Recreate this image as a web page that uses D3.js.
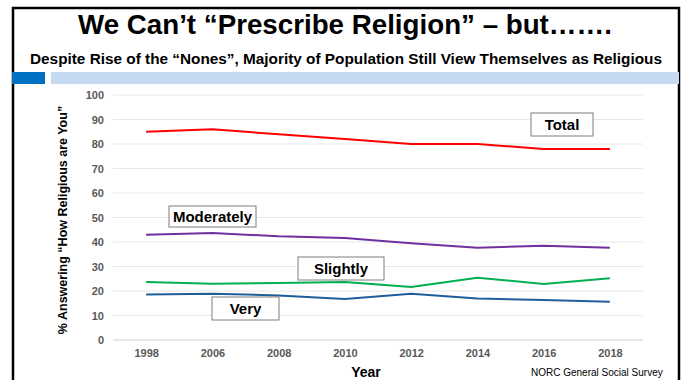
<!DOCTYPE html>
<html>
<head>
<meta charset="utf-8">
<script src="https://cdn.jsdelivr.net/npm/d3@7"></script>
<style>
  html, body { margin: 0; padding: 0; background: #fff; }
  svg { display: block; font-family: "Liberation Sans", Arial, Helvetica, sans-serif; }
</style>
</head>
<body>
<svg id="chart" width="684" height="380"></svg>
<script>
// Survey years (category axis)
const years = ["1998", "2006", "2008", "2010", "2012", "2014", "2016", "2018"];

// Percent answering each level of "How religious are you"
const total      = [85, 86, 84, 82, 80, 80, 78, 78];
const moderately = [43, 43.7, 42.3, 41.6, 39.5, 37.7, 38.5, 37.7];
const slightly   = [23.7, 23, 23.3, 23.7, 21.6, 25.4, 22.9, 25.2];
const very       = [18.6, 18.9, 18.2, 16.7, 18.9, 16.9, 16.3, 15.6];

const seriesNames = ["Total", "Moderately", "Slightly", "Very"];
const yTicks = [0, 10, 20, 30, 40, 50, 60, 70, 80, 90, 100];

const titleText = "We Can\u2019t \u201cPrescribe Religion\u201d \u2013 but\u2026\u2026.";
const subtitleText = "Despite Rise of the \u201cNones\u201d, Majority of Population Still View Themselves as Religious";
const yTitle = "% Answering  \u201cHow Religious are You\u201d";
const xTitle = "Year";
const sourceText = "NORC General Social Survey";

// Styling and layout
const colors = { Total: "#ff0000", Moderately: "#7030a0", Slightly: "#00b050", Very: "#1f5f99" };
const values = { Total: total, Moderately: moderately, Slightly: slightly, Very: very };
const labelBoxes = {
  Total:      { x: 531, y: 113, w: 62, h: 23 },
  Moderately: { x: 169, y: 206, w: 87, h: 21 },
  Slightly:   { x: 298, y: 257, w: 86, h: 23 },
  Very:       { x: 212, y: 297, w: 67, h: 23 }
};

const svg = d3.select("#chart");
svg.append("rect").attr("width", 684).attr("height", 380).attr("fill", "#fff");

// Slide frame
svg.append("path")
  .attr("d", "M13,382 L13,8 L679,8 L679,382")
  .attr("fill", "none").attr("stroke", "#000").attr("stroke-width", 2.5);

// Headings
svg.append("text").attr("x", 345).attr("y", 34)
  .attr("text-anchor", "middle").attr("font-size", 28).attr("font-weight", "bold")
  .attr("textLength", 534).attr("lengthAdjust", "spacingAndGlyphs")
  .attr("fill", "#000").text(titleText);
svg.append("text").attr("x", 346).attr("y", 64)
  .attr("text-anchor", "middle").attr("font-size", 14.5).attr("font-weight", "bold")
  .attr("textLength", 632).attr("lengthAdjust", "spacingAndGlyphs")
  .attr("fill", "#000").text(subtitleText);

// Accent bars
svg.append("rect").attr("x", 12).attr("y", 72).attr("width", 33).attr("height", 12).attr("fill", "#0070c0");
svg.append("rect").attr("x", 51).attr("y", 72).attr("width", 628).attr("height", 12).attr("fill", "#c5d9f1");

// Scales
const x = d3.scalePoint().domain(years).range([113, 643]).padding(0.5);
const y = d3.scaleLinear().domain([0, 100]).range([340, 95]);

// Gridlines
svg.append("g").selectAll("line").data(yTicks).join("line")
  .attr("x1", 113).attr("x2", 643)
  .attr("y1", d => y(d)).attr("y2", d => y(d))
  .attr("stroke", d => d === 0 ? "#d0d0d0" : "#e8e8e8").attr("stroke-width", 1);

// Y axis labels
const yAxis = svg.append("g").attr("transform", "translate(104,0)")
  .call(d3.axisLeft(y).tickValues(yTicks).tickSize(0).tickPadding(0));
yAxis.select(".domain").remove();
yAxis.selectAll("text")
  .attr("font-family", "Liberation Sans, Arial, sans-serif")
  .attr("font-size", 11).attr("font-weight", "bold").attr("fill", "#595959");

// X axis labels
const xAxis = svg.append("g").attr("transform", "translate(0,349)")
  .call(d3.axisBottom(x).tickSize(0).tickPadding(0));
xAxis.select(".domain").remove();
xAxis.selectAll("text")
  .attr("font-family", "Liberation Sans, Arial, sans-serif")
  .attr("font-size", 11).attr("font-weight", "bold").attr("fill", "#595959");

// Axis titles
svg.append("text").attr("transform", "translate(67,220) rotate(-90)")
  .attr("text-anchor", "middle").attr("font-size", 12.5).attr("font-weight", "bold")
  .attr("fill", "#000").text(yTitle);
svg.append("text").attr("x", 366).attr("y", 377)
  .attr("text-anchor", "middle").attr("font-size", 14).attr("font-weight", "bold")
  .attr("fill", "#000").text(xTitle);
svg.append("text").attr("x", 531).attr("y", 376)
  .attr("font-size", 10).attr("fill", "#000").text(sourceText);

// Series lines
const line = d3.line().x((d, i) => x(years[i])).y(d => y(d));
svg.append("g").selectAll("path").data(seriesNames).join("path")
  .attr("d", name => line(values[name]))
  .attr("fill", "none")
  .attr("stroke", name => colors[name])
  .attr("stroke-width", 2);

// Series labels
const labels = svg.append("g").selectAll("g").data(seriesNames).join("g")
  .attr("transform", name => `translate(${labelBoxes[name].x},${labelBoxes[name].y})`);
labels.append("rect")
  .attr("width", name => labelBoxes[name].w).attr("height", name => labelBoxes[name].h)
  .attr("fill", "#fff").attr("stroke", "#7f7f7f").attr("stroke-width", 1);
labels.append("text")
  .attr("x", name => labelBoxes[name].w / 2)
  .attr("y", name => labelBoxes[name].h / 2 + 5.5)
  .attr("text-anchor", "middle").attr("font-size", 15).attr("font-weight", "bold")
  .attr("fill", "#000").text(name => name);
</script>
</body>
</html>
